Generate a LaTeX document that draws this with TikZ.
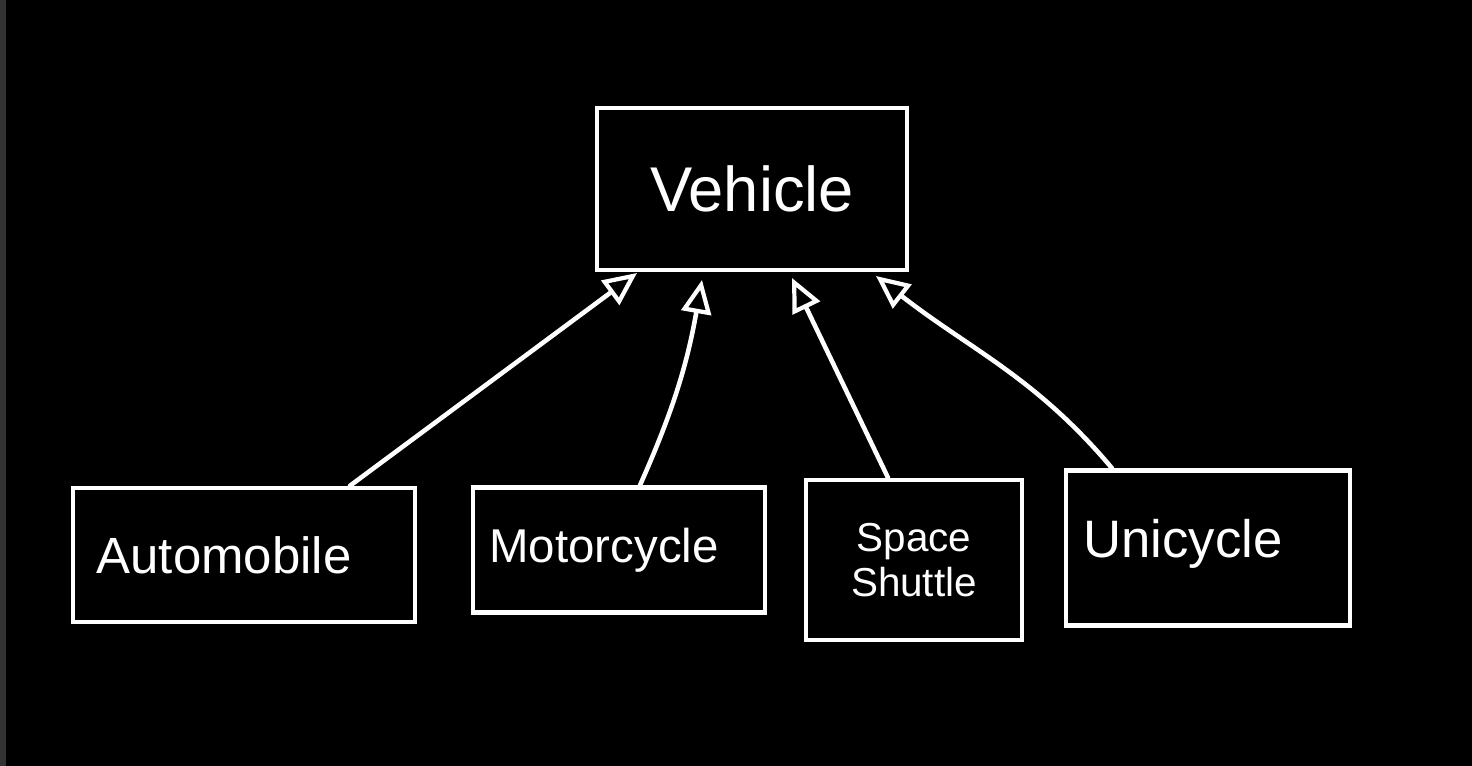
\documentclass[tikz,border=0pt]{standalone}
\usepackage{fontspec}
\setmainfont{Liberation Sans}
\usepackage{tikz}
\usetikzlibrary{arrows.meta}

\begin{document}
\begin{tikzpicture}[x=0.02cm, y=-0.02cm,
  box/.style={draw=white, line width=2.6pt, text=white, align=center, inner sep=0pt},
  inherit/.style={draw=white, line width=2.6pt, line cap=round,
    -{Triangle[open, length=19pt, width=17pt, line width=2.4pt]}}]
 \fill[black] (0,0) rectangle (1472,766);
 \fill[black!80] (0,0) rectangle (6,766);
 \useasboundingbox (0,0) rectangle (1472,766);

 \node[box, minimum width=6.2cm, minimum height=3.24cm, font=\fontsize{36}{40}\selectfont] (vehicle) at (752,189) {Vehicle};
 \node[box, minimum width=6.84cm, minimum height=2.68cm, font=\fontsize{29}{34}\selectfont] (auto) at (244,555) {Automobile\hspace{0.8cm}};
 \node[box, minimum width=5.84cm, minimum height=2.5cm, font=\fontsize{27}{32}\selectfont] (moto) at (619,550) {Motorcycle\hspace{0.6cm}};
 \node[box, minimum width=4.32cm, minimum height=3.2cm, font=\fontsize{23}{26}\selectfont] (shuttle) at (914,560) {Space\\Shuttle};
 \node[box, minimum width=5.68cm, minimum height=3.1cm, font=\fontsize{30}{34}\selectfont] (uni) at (1208,548) {\raisebox{0.4cm}{Unicycle}\hspace{1cm}};

 \coordinate (tipA) at (637,273);
 \coordinate (tipB) at (702,280);
 \coordinate (tipC) at (792,278);
 \coordinate (tipD) at (876,276);

 \draw[inherit] (auto.north -| 350,0) -- (tipA);
 \draw[inherit] (moto.north -| 640,0) to[out=66, in=-100] (tipB);
 \draw[inherit] (shuttle.north -| 888,0) -- (tipC);
 \draw[inherit] (uni.north -| 1112,0) to[out=130, in=-38] (tipD);
\end{tikzpicture}
\end{document}
